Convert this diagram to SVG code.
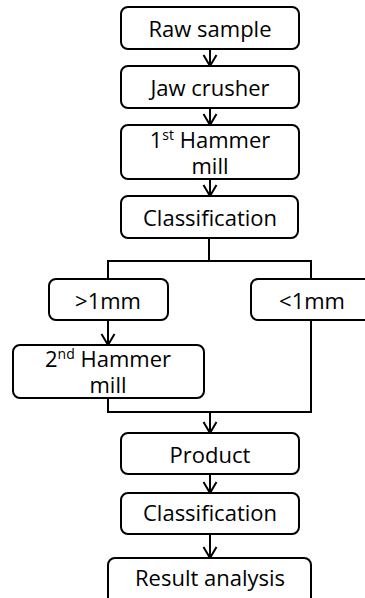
<svg xmlns="http://www.w3.org/2000/svg" width="365" height="598" viewBox="0 0 365 598">
<defs>
<style>
.box{fill:#fff;stroke:#000;stroke-width:2}
.t{font-family:"Open Sans","Noto Sans",sans-serif;font-size:22px;fill:#000;text-anchor:middle}
.sup{font-size:14px}
.c{fill:none;stroke:#000;stroke-width:2}
</style>
<marker id="v" viewBox="-13 -8 14 16" markerWidth="14" markerHeight="16" refX="0" refY="0" orient="auto" markerUnits="userSpaceOnUse">
<path d="M-11,-6.5 L0,0 L-11,6.5" fill="none" stroke="#000" stroke-width="2"/>
</marker>
</defs>
<rect width="365" height="598" fill="#fff"/>
<g id="connectors">
<line class="c" x1="210" y1="49" x2="210" y2="66" marker-end="url(#v)"/>
<line class="c" x1="210" y1="108" x2="210" y2="125" marker-end="url(#v)"/>
<line class="c" x1="210" y1="179" x2="210" y2="196" marker-end="url(#v)"/>
<polyline class="c" points="209,238 209,261"/>
<polyline class="c" points="108,279 108,261 311,261 311,279"/>
<line class="c" x1="108" y1="320" x2="108" y2="345" marker-end="url(#v)"/>
<polyline class="c" points="108,398 108,412 311,412 311,320"/>
<line class="c" x1="210" y1="412" x2="210" y2="433" marker-end="url(#v)"/>
<line class="c" x1="210" y1="474" x2="210" y2="493" marker-end="url(#v)"/>
<line class="c" x1="210" y1="534" x2="210" y2="558" marker-end="url(#v)"/>
</g>
<g id="raw-sample"><rect class="box" x="121" y="7" width="178" height="42" rx="7"/><text class="t" x="210" y="37">Raw sample</text></g>
<g id="jaw-crusher"><rect class="box" x="121" y="66" width="178" height="42" rx="7"/><text class="t" x="210" y="96">Jaw crusher</text></g>
<g id="hammer-mill-1"><rect class="box" x="121" y="125" width="178" height="54" rx="7"/><text class="t" x="210" y="148">1<tspan class="sup" dy="-8">st</tspan><tspan dy="8"> Hammer</tspan><tspan x="210" dy="26">mill</tspan></text></g>
<g id="classification-1"><rect class="box" x="121" y="196" width="177" height="42" rx="7"/><text class="t" x="210" y="226">Classification</text></g>
<g id="gt-1mm"><rect class="box" x="49" y="279" width="119" height="41" rx="7"/><text class="t" x="108" y="309">&gt;1mm</text></g>
<g id="lt-1mm"><rect class="box" x="251" y="279" width="120" height="41" rx="7"/><text class="t" x="312" y="309">&lt;1mm</text></g>
<g id="hammer-mill-2"><rect class="box" x="13" y="345" width="191" height="53" rx="7"/><text class="t" x="108" y="367">2<tspan class="sup" dy="-8">nd</tspan><tspan dy="8"> Hammer</tspan><tspan x="108" dy="26">mill</tspan></text></g>
<g id="product"><rect class="box" x="121" y="433" width="178" height="41" rx="7"/><text class="t" x="210" y="463">Product</text></g>
<g id="classification-2"><rect class="box" x="121" y="493" width="178" height="41" rx="7"/><text class="t" x="210" y="521">Classification</text></g>
<g id="result-analysis"><rect class="box" x="108" y="558" width="203" height="48" rx="7"/><text class="t" x="210" y="586">Result analysis</text></g>
</svg>
